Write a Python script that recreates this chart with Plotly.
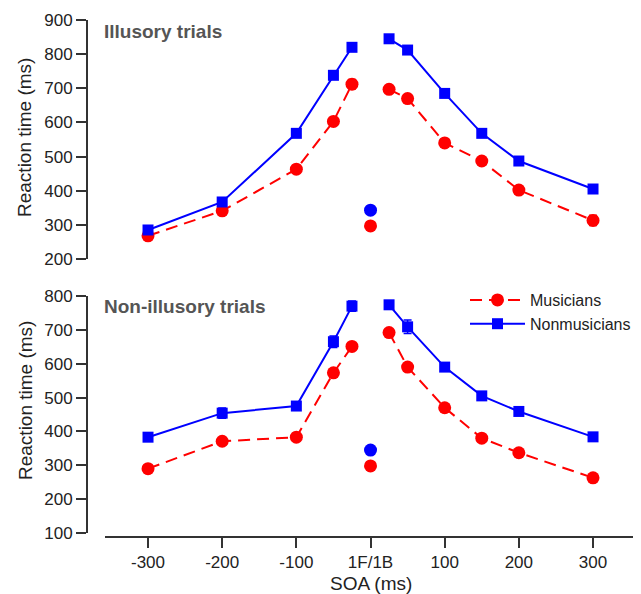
import plotly.graph_objects as go

# ---------------- data ----------------
soa = [-300, -200, -100, -50, -25, 25, 50, 100, 150, 200, 300]
tick_vals = [-300, -200, -100, 0, 100, 200, 300]
tick_text = ["-300", "-200", "-100", "1F/1B", "100", "200", "300"]

# Illusory trials
ill_mus = [268, 341, 463, 603, 712, 697, 670, 540, 487, 402, 313]
ill_mus_err = [5, 6, 6, 5, 14, 6, 6, 6, 6, 12, 15]
ill_non = [285, 367, 568, 738, 820, 845, 812, 685, 568, 487, 405]
ill_non_err = [4, 5, 5, 5, 5, 5, 5, 5, 5, 5, 5]
ill_center_mus = 297
ill_center_non = 343

# Non-illusory trials
non_mus = [290, 371, 383, 573, 651, 692, 590, 470, 380, 337, 263]
non_mus_err = [5, 6, 8, 5, 5, 6, 5, 5, 5, 5, 6]
non_non = [383, 454, 475, 665, 770, 774, 709, 590, 505, 459, 384]
non_non_err = [5, 15, 7, 17, 15, 6, 20, 6, 5, 5, 4]
non_center_mus = 298
non_center_non = 345

RED = "#FF0000"
BLUE = "#0000FF"
AX = "#333333"
FONT = "Arial, Liberation Sans, sans-serif"

# the page body has an 8px margin, so the figure is 8px smaller and
# screen coordinates are shifted by 8px
OFF = 8
W, H = 641 - OFF, 594 - OFF

def px_x(p):
    return (p - OFF) / W

def px_y(p):
    return 1 - (p - OFF) / H

fig = go.Figure()

def add_panel(mus, mus_err, non, non_err, cmus, cnon, xa, ya, legend):
    # split into left and right segments with a gap at 1F/1B
    xs = soa[:5] + [None] + soa[5:]
    ym = mus[:5] + [None] + mus[5:]
    em = mus_err[:5] + [None] + mus_err[5:]
    yn = non[:5] + [None] + non[5:]
    en = non_err[:5] + [None] + non_err[5:]
    fig.add_trace(go.Scatter(
        x=xs, y=ym, mode="lines+markers", name="Musicians",
        line=dict(color=RED, width=2, dash="12px,7px"),
        marker=dict(symbol="circle", size=13, color=RED),
        error_y=dict(type="data", array=em, color=RED, thickness=1.5, width=4),
        xaxis=xa, yaxis=ya, showlegend=legend, legendrank=1))
    fig.add_trace(go.Scatter(
        x=xs, y=yn, mode="lines+markers", name="Nonmusicians",
        line=dict(color=BLUE, width=2),
        marker=dict(symbol="square", size=11, color=BLUE),
        error_y=dict(type="data", array=en, color=BLUE, thickness=1.5, width=4),
        xaxis=xa, yaxis=ya, showlegend=legend, legendrank=2))
    fig.add_trace(go.Scatter(
        x=[0], y=[cnon], mode="markers",
        marker=dict(symbol="circle", size=13, color=BLUE),
        xaxis=xa, yaxis=ya, showlegend=False))
    fig.add_trace(go.Scatter(
        x=[0], y=[cmus], mode="markers",
        marker=dict(symbol="circle", size=13, color=RED),
        xaxis=xa, yaxis=ya, showlegend=False))

add_panel(ill_mus, ill_mus_err, ill_non, ill_non_err, ill_center_mus, ill_center_non, "x", "y", False)
add_panel(non_mus, non_mus_err, non_non, non_non_err, non_center_mus, non_center_non, "x2", "y2", True)

xrange = [-358, 362]
xdom = [px_x(105), px_x(639)]
tickfont = dict(family=FONT, size=17, color="#222222")

common = dict(showgrid=False, zeroline=False, automargin=False)

fig.update_layout(
    template="none",
    width=W, height=H,
    margin=dict(l=0, r=0, t=0, b=0, pad=0),
    paper_bgcolor="white", plot_bgcolor="white",
    font=dict(family=FONT, color="#222222"),
    xaxis=dict(domain=xdom, range=xrange, anchor="y", showline=False,
               showticklabels=False, ticks="", **common),
    yaxis=dict(domain=[px_y(259), px_y(20)], range=[200, 900], anchor="free",
               position=px_x(87), showline=True, linewidth=2, linecolor=AX,
               ticks="outside", ticklen=10, tickwidth=2, tickcolor=AX,
               tickvals=[200, 300, 400, 500, 600, 700, 800, 900],
               tickfont=tickfont, **common),
    xaxis2=dict(domain=xdom, range=xrange, anchor="free", position=px_y(537),
                showline=True, linewidth=2, linecolor=AX,
                ticks="outside", ticklen=10, tickwidth=2, tickcolor=AX,
                tickvals=tick_vals, ticktext=tick_text,
                tickfont=tickfont, **common),
    yaxis2=dict(domain=[px_y(533), px_y(296)], range=[100, 800], anchor="free",
                position=px_x(87), showline=True, linewidth=2, linecolor=AX,
                ticks="outside", ticklen=10, tickwidth=2, tickcolor=AX,
                tickvals=[100, 200, 300, 400, 500, 600, 700, 800],
                tickfont=tickfont, **common),
    legend=dict(x=px_x(465), y=px_y(283), xanchor="left", yanchor="top",
                bgcolor="rgba(0,0,0,0)", borderwidth=0,
                font=dict(family=FONT, size=16, color="#222222"),
                itemwidth=55, tracegroupgap=0),
    annotations=[
        dict(text="<b>Illusory trials</b>", x=px_x(102), y=px_y(31), xref="paper", yref="paper",
             xanchor="left", yanchor="middle", showarrow=False,
             font=dict(family=FONT, size=19, color="#555555")),
        dict(text="<b>Non-illusory trials</b>", x=px_x(102), y=px_y(306), xref="paper", yref="paper",
             xanchor="left", yanchor="middle", showarrow=False,
             font=dict(family=FONT, size=19, color="#555555")),
        dict(text="Reaction time (ms)", x=px_x(25), y=px_y(138), xref="paper", yref="paper",
             xanchor="center", yanchor="middle", showarrow=False, textangle=-90,
             font=dict(family=FONT, size=19, color="#222222")),
        dict(text="Reaction time (ms)", x=px_x(25), y=px_y(401), xref="paper", yref="paper",
             xanchor="center", yanchor="middle", showarrow=False, textangle=-90,
             font=dict(family=FONT, size=19, color="#222222")),
        dict(text="SOA (ms)", x=px_x(371), y=px_y(583), xref="paper", yref="paper",
             xanchor="center", yanchor="middle", showarrow=False,
             font=dict(family=FONT, size=19, color="#222222")),
    ],
)

fig.write_html("out.html")
